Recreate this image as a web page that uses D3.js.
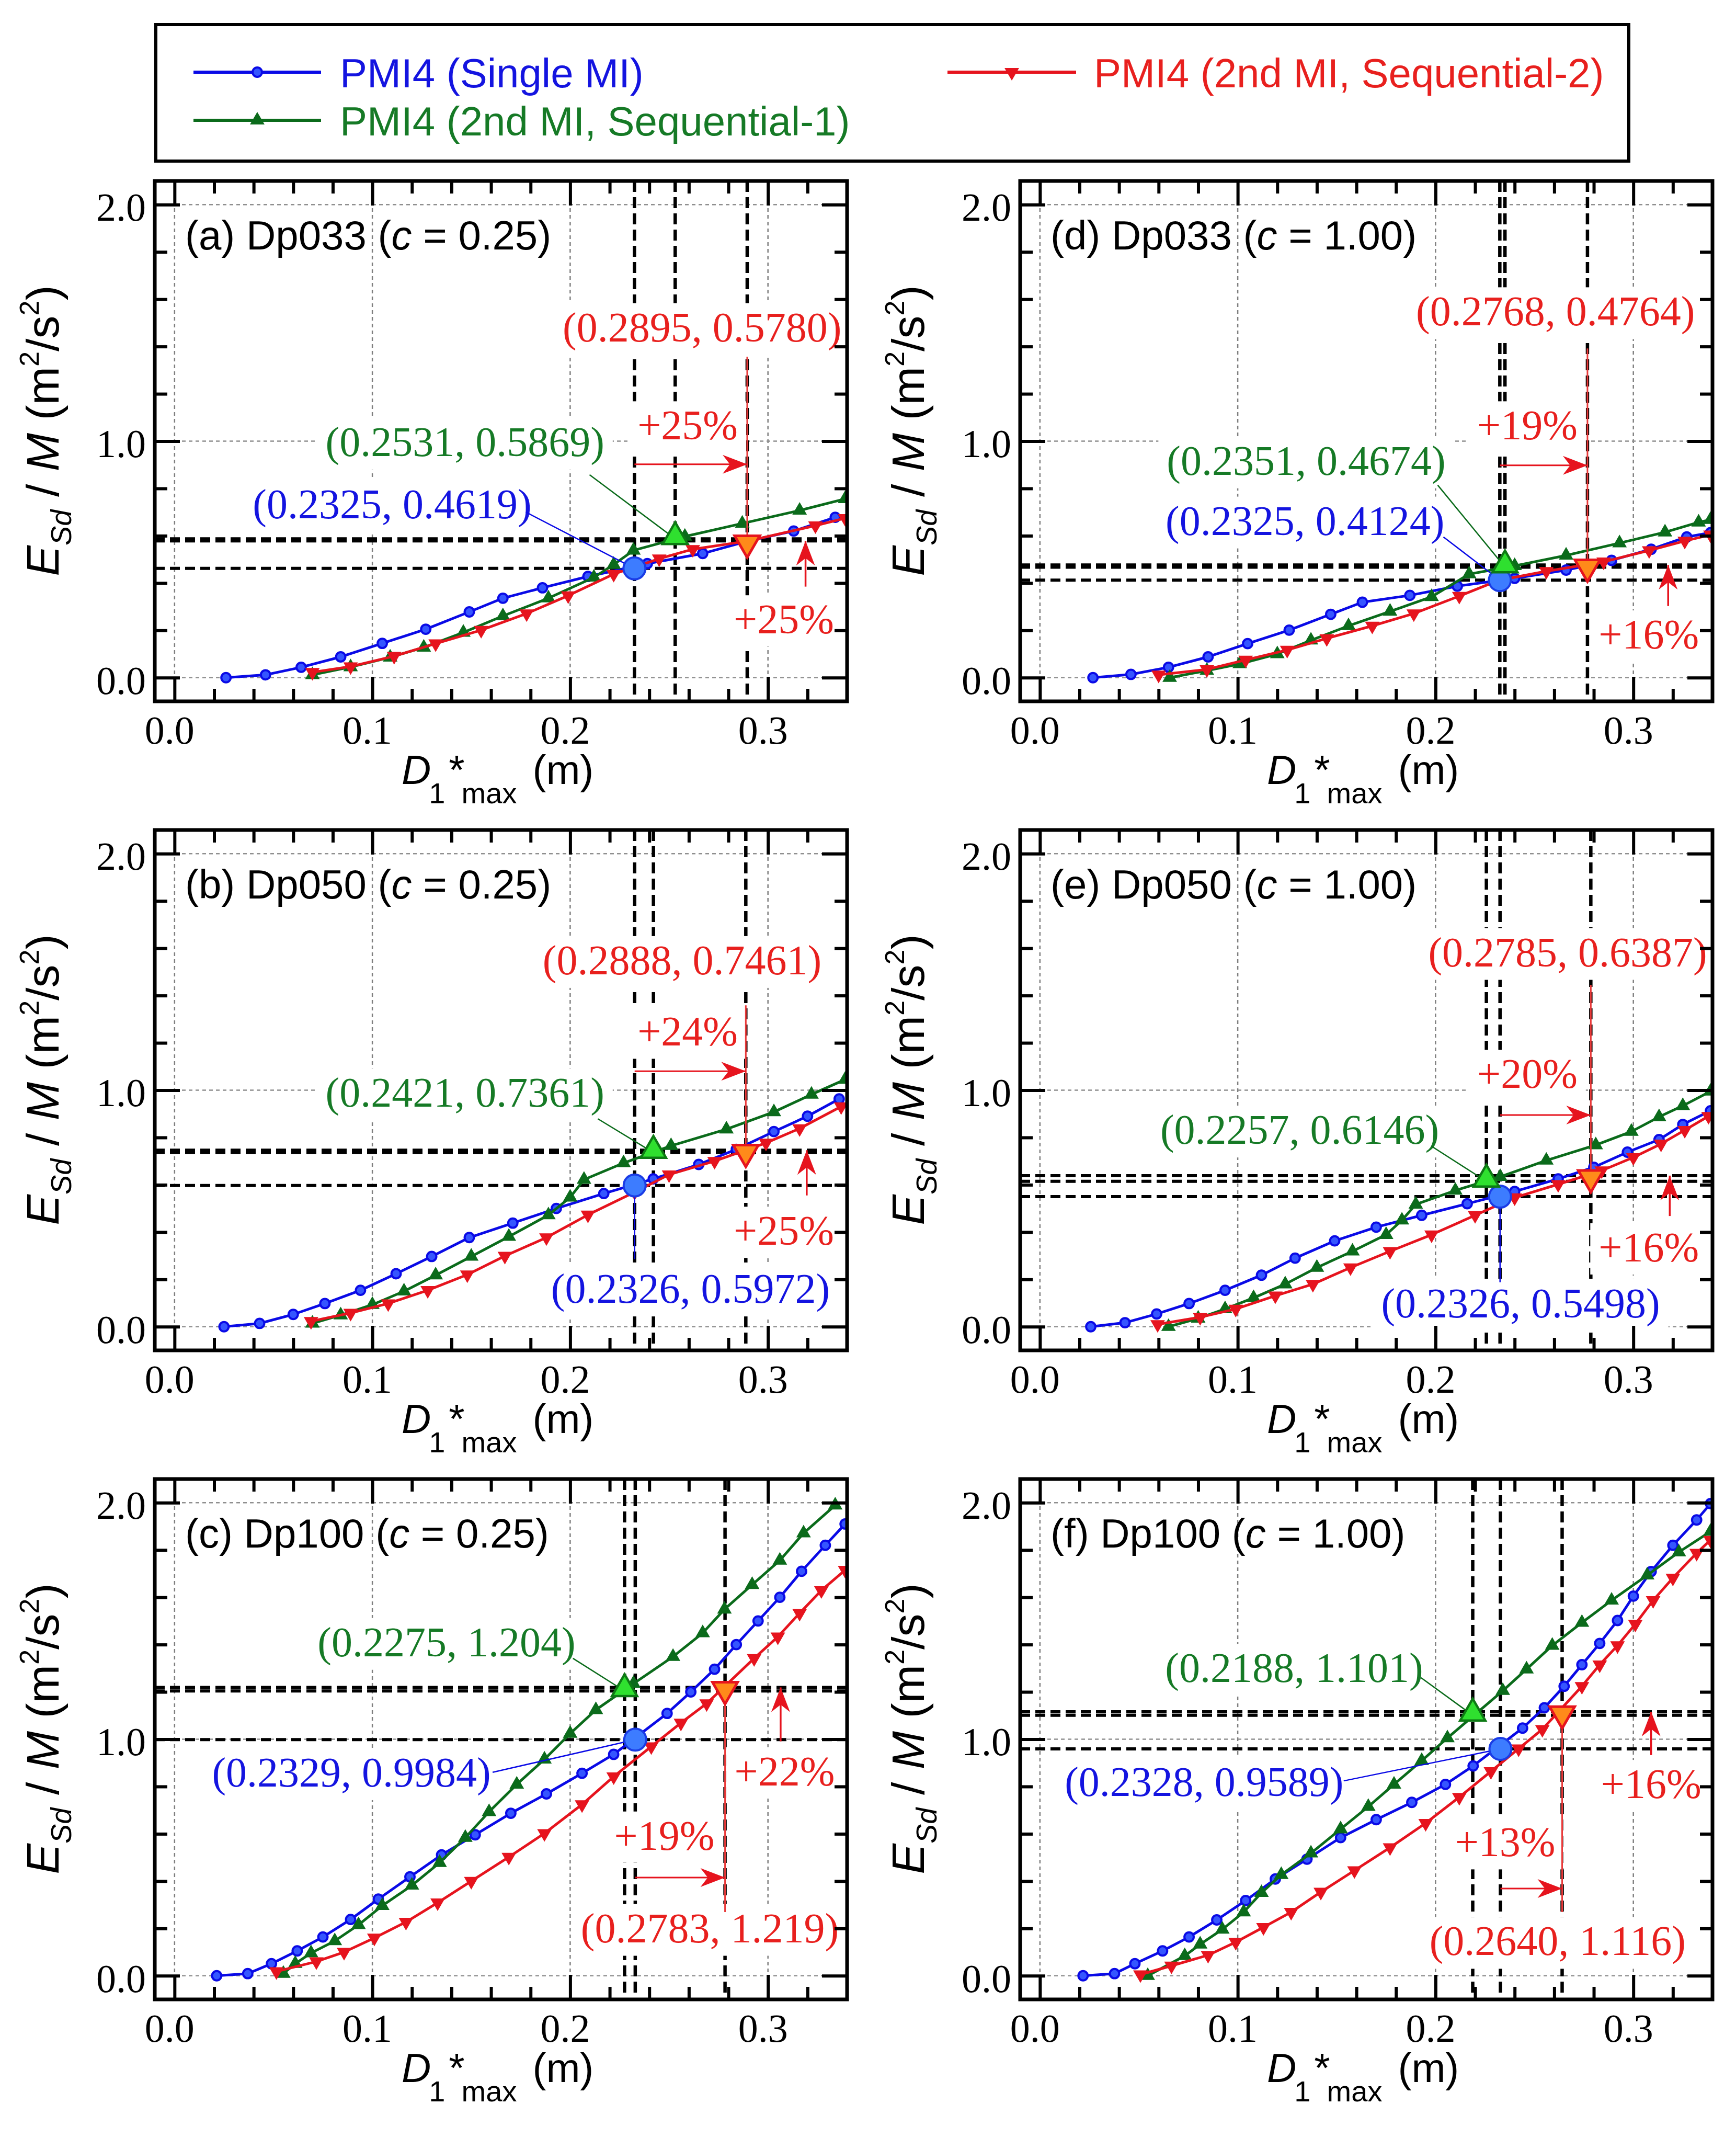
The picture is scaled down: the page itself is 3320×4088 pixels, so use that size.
<!DOCTYPE html>
<html lang="en">
<head>
<meta charset="UTF-8" />
<title>PMI4 energy vs D1*max</title>
<style>
  * { margin: 0; padding: 0; }
  body { background: #fff; }
  svg { display: block; }
  text { white-space: pre; }
</style>
</head>
<body>
<script src="https://d3js.org/d3.v7.min.js"></script>
<script>
// ---------- data ----------
const seriesNames = ["PMI4 (Single MI)", "PMI4 (2nd MI, Sequential-1)", "PMI4 (2nd MI, Sequential-2)"];
const panelIds = ["(a)", "(b)", "(c)", "(d)", "(e)", "(f)"];
const caseNames = ["Dp033", "Dp050", "Dp100", "Dp033", "Dp050", "Dp100"];
const cLabels = ["0.25", "0.25", "0.25", "1.00", "1.00", "1.00"];
const xTickValues = [0.0, 0.1, 0.2, 0.3];
const yTickValues = [0.0, 1.0, 2.0];
const xMinorTicks = [0.02, 0.04, 0.06, 0.08, 0.12, 0.14, 0.16, 0.18, 0.22, 0.24, 0.26, 0.28, 0.32];
const yMinorTicks = [0.2, 0.4, 0.6, 0.8, 1.2, 1.4, 1.6, 1.8];

// (a) Dp033, c = 0.25
const dp033c025Single = [[0.026,0.0],[0.046,0.012],[0.064,0.044],[0.084,0.088],[0.105,0.145],[0.127,0.205],[0.149,0.278],[0.166,0.336],[0.186,0.380],[0.209,0.428],[0.239,0.482],[0.267,0.525],[0.290,0.578],[0.313,0.620],[0.334,0.678]];
const dp033c025Seq1 = [[0.0697,0.012],[0.089,0.045],[0.109,0.086],[0.126,0.128],[0.146,0.191],[0.166,0.261],[0.189,0.336],[0.212,0.424],[0.222,0.478],[0.232,0.538],[0.258,0.597],[0.287,0.652],[0.316,0.707],[0.339,0.756]];
const dp033c025Seq2 = [[0.0697,0.023],[0.089,0.047],[0.111,0.091],[0.132,0.144],[0.155,0.201],[0.178,0.271],[0.199,0.347],[0.222,0.438],[0.245,0.503],[0.262,0.543],[0.290,0.578],[0.324,0.643],[0.339,0.674]];
const dp033c025Key = [[0.2325,0.4619],[0.2531,0.5869],[0.2895,0.5780]];

// (b) Dp050, c = 0.25
const dp050c025Single = [[0.025,0.0],[0.043,0.014],[0.060,0.052],[0.076,0.098],[0.094,0.154],[0.112,0.224],[0.130,0.297],[0.149,0.377],[0.171,0.438],[0.193,0.500],[0.217,0.563],[0.242,0.625],[0.265,0.686],[0.284,0.750],[0.303,0.825],[0.320,0.890],[0.336,0.963]];
const dp050c025Seq1 = [[0.0697,0.014],[0.084,0.049],[0.100,0.093],[0.116,0.150],[0.132,0.218],[0.150,0.297],[0.169,0.381],[0.189,0.472],[0.200,0.547],[0.207,0.622],[0.227,0.692],[0.251,0.765],[0.279,0.835],[0.303,0.908],[0.322,0.982],[0.339,1.045]];
const dp050c025Seq2 = [[0.069,0.023],[0.089,0.058],[0.108,0.098],[0.128,0.154],[0.148,0.220],[0.167,0.299],[0.188,0.377],[0.209,0.473],[0.2326,0.569],[0.250,0.643],[0.273,0.700],[0.299,0.777],[0.316,0.838],[0.337,0.931]];
const dp050c025Key = [[0.2326,0.5972],[0.2421,0.7361],[0.2888,0.7461]];

// (c) Dp100, c = 0.25
const dp100c025Single = [[0.0213,0.0],[0.037,0.009],[0.049,0.051],[0.062,0.105],[0.075,0.164],[0.089,0.238],[0.103,0.324],[0.119,0.418],[0.135,0.511],[0.152,0.596],[0.170,0.687],[0.188,0.769],[0.206,0.856],[0.222,0.936],[0.249,1.109],[0.261,1.200],[0.273,1.296],[0.284,1.400],[0.295,1.500],[0.306,1.600],[0.317,1.710],[0.329,1.820],[0.339,1.910]];
const dp100c025Seq1 = [[0.055,0.009],[0.061,0.051],[0.069,0.096],[0.081,0.147],[0.093,0.215],[0.105,0.296],[0.120,0.382],[0.134,0.478],[0.147,0.584],[0.159,0.693],[0.173,0.809],[0.187,0.915],[0.200,1.024],[0.213,1.124],[0.232,1.235],[0.252,1.349],[0.267,1.449],[0.278,1.549],[0.292,1.653],[0.306,1.756],[0.318,1.871],[0.334,1.989]];
const dp100c025Seq2 = [[0.0515,0.018],[0.0717,0.060],[0.0857,0.100],[0.101,0.160],[0.117,0.227],[0.133,0.309],[0.150,0.400],[0.169,0.502],[0.187,0.602],[0.206,0.724],[0.222,0.842],[0.241,0.969],[0.256,1.069],[0.269,1.151],[0.293,1.342],[0.305,1.433],[0.316,1.533],[0.327,1.629],[0.339,1.715]];
const dp100c025Key = [[0.2329,0.9984],[0.2275,1.204],[0.2783,1.219]];

// (d) Dp033, c = 1.00
const dp033c100Single = [[0.0268,0.0],[0.046,0.014],[0.065,0.044],[0.085,0.088],[0.105,0.144],[0.126,0.201],[0.147,0.268],[0.163,0.319],[0.187,0.348],[0.211,0.387],[0.240,0.420],[0.266,0.455],[0.289,0.496],[0.309,0.543],[0.327,0.595],[0.339,0.613]];
const dp033c100Seq1 = [[0.0656,0.0],[0.0844,0.030],[0.101,0.058],[0.120,0.100],[0.137,0.158],[0.156,0.219],[0.177,0.280],[0.198,0.342],[0.217,0.438],[0.240,0.473],[0.266,0.517],[0.293,0.569],[0.316,0.615],[0.333,0.657],[0.339,0.668]];
const dp033c100Seq2 = [[0.060,0.012],[0.0844,0.035],[0.104,0.075],[0.125,0.117],[0.145,0.166],[0.168,0.219],[0.189,0.271],[0.212,0.345],[0.232,0.412],[0.256,0.450],[0.285,0.490],[0.308,0.538],[0.326,0.578],[0.339,0.604]];
const dp033c100Key = [[0.2325,0.4124],[0.2351,0.4674],[0.2768,0.4764]];

// (e) Dp050, c = 1.00
const dp050c100Single = [[0.0257,0.0],[0.043,0.017],[0.059,0.054],[0.0754,0.098],[0.0936,0.154],[0.112,0.218],[0.129,0.290],[0.149,0.363],[0.170,0.421],[0.193,0.471],[0.216,0.520],[0.240,0.572],[0.262,0.625],[0.280,0.674],[0.297,0.738],[0.313,0.791],[0.325,0.855],[0.339,0.913]];
const dp050c100Seq1 = [[0.065,0.0],[0.080,0.035],[0.0936,0.075],[0.108,0.122],[0.124,0.180],[0.140,0.250],[0.158,0.319],[0.175,0.389],[0.183,0.450],[0.190,0.517],[0.210,0.576],[0.2327,0.634],[0.256,0.703],[0.281,0.768],[0.299,0.825],[0.313,0.887],[0.325,0.934],[0.339,0.995]];
const dp050c100Seq2 = [[0.0595,0.010],[0.081,0.040],[0.099,0.075],[0.119,0.131],[0.138,0.180],[0.157,0.250],[0.177,0.319],[0.198,0.389],[0.220,0.471],[0.240,0.546],[0.262,0.602],[0.284,0.660],[0.300,0.716],[0.314,0.773],[0.326,0.831],[0.338,0.890]];
const dp050c100Key = [[0.2326,0.5498],[0.2257,0.6146],[0.2785,0.6387]];

// (f) Dp100, c = 1.00
const dp100c100Single = [[0.0218,0.0],[0.0377,0.009],[0.048,0.051],[0.062,0.105],[0.0754,0.164],[0.0894,0.236],[0.104,0.318],[0.119,0.409],[0.135,0.493],[0.152,0.584],[0.170,0.660],[0.188,0.733],[0.205,0.809],[0.219,0.887],[0.244,1.047],[0.255,1.133],[0.265,1.224],[0.274,1.315],[0.283,1.405],[0.292,1.502],[0.300,1.605],[0.309,1.709],[0.320,1.820],[0.332,1.927],[0.339,1.996]];
const dp100c100Seq1 = [[0.0545,0.0],[0.0732,0.084],[0.081,0.133],[0.0922,0.196],[0.103,0.269],[0.112,0.351],[0.122,0.427],[0.137,0.518],[0.152,0.620],[0.166,0.715],[0.179,0.809],[0.193,0.909],[0.206,1.005],[0.234,1.205],[0.246,1.296],[0.259,1.396],[0.274,1.493],[0.289,1.587],[0.307,1.693],[0.323,1.791],[0.339,1.878]];
const dp100c100Seq2 = [[0.0508,0.005],[0.0665,0.042],[0.085,0.087],[0.099,0.142],[0.113,0.205],[0.127,0.269],[0.142,0.354],[0.159,0.445],[0.177,0.542],[0.195,0.645],[0.212,0.755],[0.228,0.864],[0.242,0.960],[0.254,1.042],[0.274,1.224],[0.283,1.315],[0.292,1.396],[0.301,1.487],[0.310,1.587],[0.320,1.682],[0.332,1.787],[0.339,1.842]];
const dp100c100Key = [[0.2328,0.9589],[0.2188,1.101],[0.2640,1.116]];

// ---------- layout (annotation text positions, in data units) ----------
const annLayout = [
  { col: 0, row: 0,
    red: { tx: 0.2667, ty: 1.422, ly: 1.357 },
    green: { tx: 0.1468, ty: 0.937, lx: 0.2098, ly: 0.858 },
    blue: { tx: 0.110, ty: 0.674, lx: 0.1776, ly: 0.700 },
    hArrow: { y: 0.902, tx: 0.2594, ty: 1.007 },
    vArrow: { x: 0.319, y0: 0.385, tx: 0.308, ty: 0.187 } },
  { col: 0, row: 1,
    red: { tx: 0.2566, ty: 1.490, ly: 1.359 },
    green: { tx: 0.1468, ty: 0.931, lx: 0.214, ly: 0.879 },
    blue: { tx: 0.2608, ty: 0.101, lx: 0.2326, ly: 0.285 },
    hArrow: { y: 1.080, tx: 0.2594, ty: 1.188 },
    vArrow: { x: 0.3196, y0: 0.555, tx: 0.308, ty: 0.346 } },
  { col: 0, row: 2,
    red: { tx: 0.2706, ty: 0.142, ly: 0.269 },
    green: { tx: 0.1375, ty: 1.351, lx: 0.2014, ly: 1.342 },
    blue: { tx: 0.0894, ty: 0.800, lx: 0.1608, ly: 0.860 },
    hArrow: { y: 0.415, tx: 0.2476, ty: 0.533 },
    vArrow: { x: 0.3064, y0: 0.991, tx: 0.3084, ty: 0.805 } },
  { col: 1, row: 0,
    red: { tx: 0.2606, ty: 1.489, ly: 1.392 },
    green: { tx: 0.1346, ty: 0.858, lx: 0.2011, ly: 0.814 },
    blue: { tx: 0.134, ty: 0.604, lx: 0.204, ly: 0.595 },
    hArrow: { y: 0.898, tx: 0.2464, ty: 1.007 },
    vArrow: { x: 0.3176, y0: 0.303, tx: 0.3078, ty: 0.123 } },
  { col: 1, row: 1,
    red: { tx: 0.2668, ty: 1.524, ly: 1.445 },
    green: { tx: 0.1313, ty: 0.773, lx: 0.1978, ly: 0.764 },
    blue: { tx: 0.243, ty: 0.040, lx: 0.2326, ly: 0.188 },
    hArrow: { y: 0.895, tx: 0.2464, ty: 1.009 },
    vArrow: { x: 0.3184, y0: 0.468, tx: 0.3078, ty: 0.276 } },
  { col: 1, row: 2,
    red: { tx: 0.2617, ty: 0.087, ly: 0.269 },
    green: { tx: 0.1285, ty: 1.242, lx: 0.1927, ly: 1.260 },
    blue: { tx: 0.083, ty: 0.760, lx: 0.1536, ly: 0.824 },
    hArrow: { y: 0.369, tx: 0.2352, ty: 0.505 },
    vArrow: { x: 0.309, y0: 0.933, tx: 0.309, ty: 0.751 } }
];

const panels = [
  [dp033c025Single, dp033c025Seq1, dp033c025Seq2, dp033c025Key],
  [dp050c025Single, dp050c025Seq1, dp050c025Seq2, dp050c025Key],
  [dp100c025Single, dp100c025Seq1, dp100c025Seq2, dp100c025Key],
  [dp033c100Single, dp033c100Seq1, dp033c100Seq2, dp033c100Key],
  [dp050c100Single, dp050c100Seq1, dp050c100Seq2, dp050c100Key],
  [dp100c100Single, dp100c100Seq1, dp100c100Seq2, dp100c100Key]
].map((d, i) => ({ id: panelIds[i], name: caseNames[i], c: cLabels[i],
  series: [d[0], d[1], d[2]], key: d[3], ann: annLayout[i] }));

// ---------- style ----------
const SERIF = "'Liberation Serif', 'Times New Roman', serif";
const SANS = "'Liberation Sans', Arial, sans-serif";
const lineColors = ["#0a0ae6", "#0b6b1b", "#e6141e"];
const textColors = ["#1414e0", "#167a26", "#e8201e"];
const W = 3320, H = 4088;
const colLeft = [296, 1951];
const rowTop = [346, 1587, 2828];
const plotW = 1324, plotH = 995;
const xDomain = [-0.01, 0.34], yDomain = [-0.1, 2.1];

const svg = d3.select("body").append("svg")
  .attr("width", W).attr("height", H).attr("viewBox", `0 0 ${W} ${H}`);
svg.append("rect").attr("width", W).attr("height", H).attr("fill", "#fff");

const defs = svg.append("defs");
defs.append("marker")
  .attr("id", "arrowRed")
  .attr("markerUnits", "userSpaceOnUse")
  .attr("viewBox", "-50 -20 54 40")
  .attr("markerWidth", 54).attr("markerHeight", 40)
  .attr("refX", 0).attr("refY", 0)
  .attr("orient", "auto")
  .append("path")
  .attr("d", "M0,0 L-47,-18 L-33,0 L-47,18 Z")
  .attr("fill", lineColors[2]);

// small series markers
const smallSymbol = [
  d3.symbol().type(d3.symbolCircle).size(250),
  d3.symbol().type(d3.symbolTriangle).size(190),
  d3.symbol().type(d3.symbolTriangle).size(190)
];
const smallRotate = [0, 0, 180];
const smallFill = ["#3556ff", lineColors[1], lineColors[2]];

function drawMarker(sel, k, cx, cy) {
  sel.append("path")
    .attr("d", smallSymbol[k]())
    .attr("transform", `translate(${cx},${cy}) rotate(${smallRotate[k]})`)
    .attr("fill", smallFill[k])
    .attr("stroke", lineColors[k])
    .attr("stroke-width", 4);
}

function boxedText(parent, str, cx, base, color) {
  const grp = parent.append("g");
  const t = grp.append("text")
    .attr("x", cx).attr("y", base)
    .attr("text-anchor", "middle")
    .attr("font-family", SERIF).attr("font-size", 80)
    .attr("fill", color)
    .text(str);
  const bb = t.node().getBBox();
  grp.insert("rect", "text")
    .attr("x", bb.x - 16).attr("y", bb.y - 2)
    .attr("width", bb.width + 32).attr("height", bb.height + 10)
    .attr("fill", "#fff");
  return grp;
}

function styleAxis(sel) {
  sel.select(".domain").remove();
  sel.selectAll(".tick line").attr("stroke", "#000").attr("stroke-width", 6);
  sel.selectAll(".tick text")
    .attr("font-family", SERIF).attr("font-size", 76).attr("fill", "#000");
}

const fmtKey = d3.format(".4r");
const fmtPct = v => "+" + Math.round((v - 1) * 100) + "%";

// ---------- legend ----------
const legend = svg.append("g");
legend.append("rect")
  .attr("x", 298).attr("y", 47).attr("width", 2817).attr("height", 261)
  .attr("fill", "#fff").attr("stroke", "#000").attr("stroke-width", 6);
const legendPos = [
  { x1: 370, x2: 614, y: 138, tx: 650, ty: 167 },
  { x1: 370, x2: 614, y: 230, tx: 650, ty: 259 },
  { x1: 1812, x2: 2058, y: 138, tx: 2092, ty: 167 }
];
seriesNames.forEach((name, k) => {
  const p = legendPos[k];
  legend.append("line")
    .attr("x1", p.x1).attr("x2", p.x2).attr("y1", p.y).attr("y2", p.y)
    .attr("stroke", lineColors[k]).attr("stroke-width", 6);
  drawMarker(legend, k, (p.x1 + p.x2) / 2, p.y);
  legend.append("text")
    .attr("x", p.tx).attr("y", p.ty)
    .attr("font-family", SANS).attr("font-size", 78)
    .attr("fill", textColors[k])
    .text(name);
});

// ---------- panels ----------
panels.forEach((p, i) => {
  const a = p.ann;
  const g = svg.append("g").attr("transform", `translate(${colLeft[a.col]},${rowTop[a.row]})`);
  const x = d3.scaleLinear().domain(xDomain).range([0, plotW]);
  const y = d3.scaleLinear().domain(yDomain).range([plotH, 0]);

  const clipId = "clip" + i;
  defs.append("clipPath").attr("id", clipId)
    .append("rect").attr("width", plotW).attr("height", plotH);
  const inner = g.append("g").attr("clip-path", `url(#${clipId})`);

  // grid
  inner.selectAll("line.gx").data(xTickValues).join("line")
    .attr("class", "gx")
    .attr("x1", d => x(d)).attr("x2", d => x(d))
    .attr("y1", 0).attr("y2", plotH)
    .attr("stroke", "#7f7f7f").attr("stroke-width", 2.5).attr("stroke-dasharray", "7,6");
  inner.selectAll("line.gy").data(yTickValues).join("line")
    .attr("class", "gy")
    .attr("y1", d => y(d)).attr("y2", d => y(d))
    .attr("x1", 0).attr("x2", plotW)
    .attr("stroke", "#8f8f8f").attr("stroke-width", 2.5).attr("stroke-dasharray", "7,6");

  // dashed guide lines through the three key points
  inner.selectAll("line.vg").data(p.key).join("line")
    .attr("class", "vg")
    .attr("x1", d => x(d[0])).attr("x2", d => x(d[0]))
    .attr("y1", 0).attr("y2", plotH)
    .attr("stroke", "#000").attr("stroke-width", 6.5).attr("stroke-dasharray", "21,10");
  inner.selectAll("line.hg").data(p.key).join("line")
    .attr("class", "hg")
    .attr("y1", d => y(d[1])).attr("y2", d => y(d[1]))
    .attr("x1", 0).attr("x2", plotW)
    .attr("stroke", "#000").attr("stroke-width", 6).attr("stroke-dasharray", "19,10");

  const [kb, kg, kr] = p.key;

  // annotation labels (white boxed)
  const annG = inner.append("g");
  boxedText(annG, `(${fmtKey(kr[0])}, ${fmtKey(kr[1])})`, x(a.red.tx), y(a.red.ty), textColors[2]);
  boxedText(annG, `(${fmtKey(kg[0])}, ${fmtKey(kg[1])})`, x(a.green.tx), y(a.green.ty), textColors[1]);
  boxedText(annG, `(${fmtKey(kb[0])}, ${fmtKey(kb[1])})`, x(a.blue.tx), y(a.blue.ty), textColors[0]);
  boxedText(annG, fmtPct(kr[0] / kb[0]), x(a.hArrow.tx), y(a.hArrow.ty), textColors[2]);
  boxedText(annG, fmtPct(kr[1] / kb[1]), x(a.vArrow.tx), y(a.vArrow.ty), textColors[2]);

  // series
  const line = d3.line().x(d => x(d[0])).y(d => y(d[1]));
  p.series.forEach((s, k) => {
    inner.append("path")
      .datum(s)
      .attr("d", line)
      .attr("fill", "none")
      .attr("stroke", lineColors[k])
      .attr("stroke-width", 5)
      .attr("stroke-linejoin", "round");
    const mg = inner.append("g");
    s.forEach(d => drawMarker(mg, k, x(d[0]), y(d[1])));
  });

  // leaders
  inner.append("line")
    .attr("x1", x(kr[0])).attr("x2", x(kr[0]))
    .attr("y1", y(a.red.ly)).attr("y2", y(kr[1]))
    .attr("stroke", "#e83a3a").attr("stroke-width", 3);
  inner.append("line")
    .attr("x1", x(a.green.lx)).attr("y1", y(a.green.ly))
    .attr("x2", x(kg[0])).attr("y2", y(kg[1]))
    .attr("stroke", lineColors[1]).attr("stroke-width", 2.5);
  inner.append("line")
    .attr("x1", x(a.blue.lx)).attr("y1", y(a.blue.ly))
    .attr("x2", x(kb[0])).attr("y2", y(kb[1]))
    .attr("stroke", lineColors[0]).attr("stroke-width", 2.5);

  // arrows
  inner.append("line")
    .attr("x1", x(kb[0])).attr("x2", x(kr[0]))
    .attr("y1", y(a.hArrow.y)).attr("y2", y(a.hArrow.y))
    .attr("stroke", lineColors[2]).attr("stroke-width", 3)
    .attr("marker-end", "url(#arrowRed)");
  inner.append("line")
    .attr("x1", x(a.vArrow.x)).attr("x2", x(a.vArrow.x))
    .attr("y1", y(a.vArrow.y0)).attr("y2", y(kr[1]))
    .attr("stroke", lineColors[2]).attr("stroke-width", 3.5)
    .attr("marker-end", "url(#arrowRed)");

  // big key markers
  inner.append("circle")
    .attr("cx", x(kb[0])).attr("cy", y(kb[1])).attr("r", 21)
    .attr("fill", "#3d7cff").attr("stroke", "#1a3ce6").attr("stroke-width", 4);
  inner.append("path")
    .attr("d", d3.symbol().type(d3.symbolTriangle).size(1000)())
    .attr("transform", `translate(${x(kg[0])},${y(kg[1]) - 4})`)
    .attr("fill", "#2fe02f").attr("stroke", "#0d7a14").attr("stroke-width", 4.5);
  inner.append("path")
    .attr("d", d3.symbol().type(d3.symbolTriangle).size(1000)())
    .attr("transform", `translate(${x(kr[0])},${y(kr[1]) + 4}) rotate(180)`)
    .attr("fill", "#ff8a1a").attr("stroke", "#e6141e").attr("stroke-width", 5);

  // frame + ticks
  g.append("rect")
    .attr("width", plotW).attr("height", plotH)
    .attr("fill", "none").attr("stroke", "#000").attr("stroke-width", 7);

  g.append("g").attr("transform", `translate(0,${plotH})`)
    .call(d3.axisBottom(x).tickValues(xTickValues).tickFormat(d3.format(".1f"))
      .tickSizeInner(-47).tickSizeOuter(0).tickPadding(27))
    .call(styleAxis)
    .call(s => s.selectAll(".tick text").attr("dx", -10));
  g.append("g").attr("transform", `translate(0,${plotH})`)
    .call(d3.axisBottom(x).tickValues(xMinorTicks).tickFormat(() => "")
      .tickSizeInner(-24).tickSizeOuter(0))
    .call(styleAxis);
  g.append("g")
    .call(d3.axisTop(x).tickValues(xTickValues).tickFormat(() => "")
      .tickSizeInner(-47).tickSizeOuter(0))
    .call(styleAxis);
  g.append("g")
    .call(d3.axisTop(x).tickValues(xMinorTicks).tickFormat(() => "")
      .tickSizeInner(-24).tickSizeOuter(0))
    .call(styleAxis);

  g.append("g")
    .call(d3.axisLeft(y).tickValues(yTickValues).tickFormat(d3.format(".1f"))
      .tickSizeInner(-48).tickSizeOuter(0).tickPadding(17))
    .call(styleAxis)
    .call(s => s.selectAll(".tick text").attr("dy", "0.4em"));
  g.append("g")
    .call(d3.axisLeft(y).tickValues(yMinorTicks).tickFormat(() => "")
      .tickSizeInner(-24).tickSizeOuter(0))
    .call(styleAxis);
  g.append("g").attr("transform", `translate(${plotW},0)`)
    .call(d3.axisRight(y).tickValues(yTickValues).tickFormat(() => "")
      .tickSizeInner(-48).tickSizeOuter(0))
    .call(styleAxis);
  g.append("g").attr("transform", `translate(${plotW},0)`)
    .call(d3.axisRight(y).tickValues(yMinorTicks).tickFormat(() => "")
      .tickSizeInner(-24).tickSizeOuter(0))
    .call(styleAxis);

  // panel title
  const title = g.append("text")
    .attr("x", 58).attr("y", 131)
    .attr("font-family", SANS).attr("font-size", 78).attr("fill", "#000");
  title.append("tspan").text(`${p.id} ${p.name} (`);
  title.append("tspan").attr("font-style", "italic").text("c");
  title.append("tspan").text(` = ${p.c})`);

  // y label: E_Sd / M (m^2/s^2)
  const yl = g.append("text")
    .attr("transform", `translate(-184,${plotH / 2 - 20}) rotate(-90)`)
    .attr("text-anchor", "middle")
    .attr("font-family", SANS).attr("font-size", 88).attr("fill", "#000");
  yl.append("tspan").attr("font-style", "italic").text("E");
  yl.append("tspan").attr("font-style", "italic").attr("font-size", 56).attr("dy", 24).text("Sd");
  yl.append("tspan").attr("dy", -24).text(" / ");
  yl.append("tspan").attr("font-style", "italic").text("M");
  yl.append("tspan").text(" (m");
  yl.append("tspan").attr("font-size", 52).attr("dy", -38).text("2");
  yl.append("tspan").attr("dy", 38).text("/s");
  yl.append("tspan").attr("font-size", 52).attr("dy", -38).text("2");
  yl.append("tspan").attr("dy", 38).text(")");

  // x label: D_1max^* (m), one text element with stacked sub/superscript
  const xl = g.append("text")
    .attr("x", plotW / 2 - 190).attr("y", plotH + 158)
    .attr("font-family", SANS).attr("font-size", 78).attr("fill", "#000");
  xl.append("tspan").attr("font-style", "italic").text("D");
  const sub = xl.append("tspan").attr("font-size", 56).attr("dx", -4).attr("dy", 37).text("1  max");
  const wSub = sub.node().getComputedTextLength();
  const starShift = 38;
  const star = xl.append("tspan").attr("dx", -wSub + starShift).attr("dy", -37).text("*");
  const wStar = star.node().getComputedTextLength();
  xl.append("tspan").attr("dx", wSub + 30 - starShift - wStar).text("(m)");
});
</script>
</body>
</html>
